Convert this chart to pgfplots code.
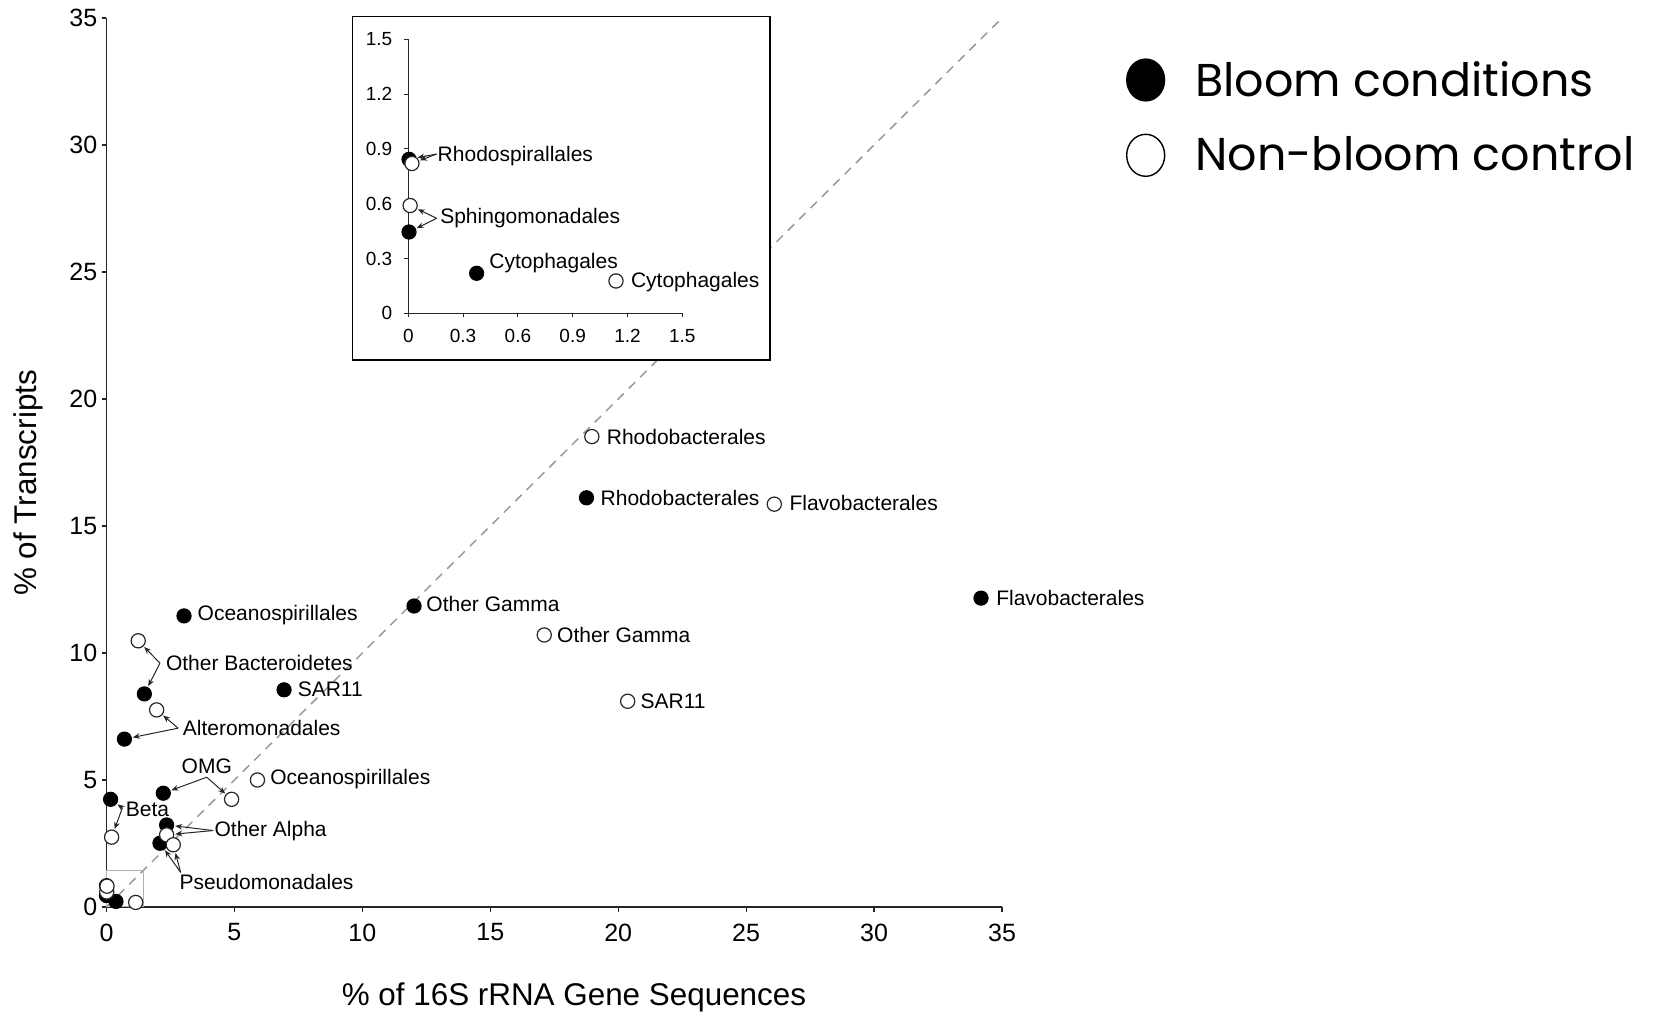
\documentclass[border=0pt]{standalone}
\usepackage{pgfplots}
\usepackage{pgfplotstable}
\pgfplotsset{compat=1.18}
\usepackage{fontspec}
\setmainfont{Liberation Sans}
\newfontfamily\legfont{Poppins}
\usetikzlibrary{arrows.meta}

\pgfplotstableread{
x y
34.18 12.16
18.76 16.11
12.02 11.85
3.03 11.46
6.94 8.55
1.48 8.39
0.70 6.61
2.22 4.48
0.16 4.24
2.35 3.23
2.09 2.51
0.37 0.22
0.00 0.45
0.00 0.84
}\bloom

\pgfplotstableread{
x y
18.97 18.52
26.10 15.86
17.11 10.71
20.37 8.10
5.90 5.00
4.89 4.24
1.24 10.48
1.96 7.76
0.20 2.75
2.35 2.84
2.61 2.45
1.14 0.18
0.01 0.59
0.02 0.82
}\nonbloom

\pgfplotstableread{
x y
0.004 0.843
0.004 0.445
0.374 0.219
}\bloominset

\pgfplotstableread{
x y
0.020 0.820
0.010 0.590
1.137 0.177
}\nonbloominset

\tikzset{
  ann/.style={black!85, line width=0.5pt, -{Stealth[length=3.5pt,width=2.8pt]}, shorten >=4.3pt},
  lbl/.style={anchor=west, inner sep=0pt, font=\fontsize{10.5}{12}\selectfont},
}

\begin{document}
\begin{tikzpicture}[x=1pt,y=1pt]
\useasboundingbox (0,0) rectangle (827,508);
\begin{axis}[
  at={(53.25pt,54.5pt)}, anchor=south west,
  scale only axis, width=447.75pt, height=444.5pt,
  xmin=0, xmax=35, ymin=0, ymax=35,
  axis lines=left,
  axis line style={-, line width=0.7pt, black!85},
  xtick={0,5,10,15,20,25,30,35},
  ytick={0,5,10,15,20,25,30,35},
  tick align=outside, major tick length=2.3pt,
  tick style={line width=0.6pt, black!85},
  ticklabel style={font=\fontsize{12.5}{14}\selectfont},
  xticklabel style={yshift=-2.5pt},
  yticklabel style={xshift=1.2pt},
  /pgf/number format/assume math mode=true,
  xlabel={\% of 16S rRNA Gene Sequences},
  ylabel={\% of Transcripts},
  label style={font=\fontsize{15.7}{18}\selectfont},
  xlabel style={at={(rel axis cs:0.522,-0.1012)}, anchor=center},
  ylabel style={at={(rel axis cs:-0.0871,0.477)}, anchor=center},
  clip=false,
  legend cell align=left,
  legend style={at={(rel axis cs:1.138,0.955)}, anchor=north west,
    draw=none, fill=none, inner sep=0pt,
    font=\legfont\fontsize{23}{28}\selectfont,
    row sep=16pt, nodes={inner sep=0pt},
    /tikz/every odd column/.append style={column sep=15pt}},
]
\addlegendimage{legend image code/.code={\draw[black, line width=0.6pt, fill=black] (9.5pt,0pt) ellipse [x radius=9.5pt, y radius=10.5pt];}}
\addlegendentry{Bloom conditions}
\addlegendimage{legend image code/.code={\draw[black, line width=0.7pt, fill=white] (9.5pt,0pt) ellipse [x radius=9.5pt, y radius=10.5pt];}}
\addlegendentry{Non-bloom control}

\addplot[black!40, line width=0.75pt, dash pattern=on 4.5pt off 3.5pt, forget plot] coordinates {(0,0) (34.9,34.9)};
\draw[black!30, line width=0.5pt] (0,0) rectangle (1.45,1.45);

\addplot[only marks, mark=*, mark size=3.55pt, mark options={fill=black, draw=black, line width=0.5pt}, forget plot] table {\bloom};
\addplot[only marks, mark=*, mark size=3.55pt, mark options={fill=white, draw=black!85, line width=0.6pt}, forget plot] table {\nonbloom};

% annotations
\draw[ann] (2.09,9.60) -- (1.24,10.48);
\draw[ann] (2.09,9.60) -- (1.48,8.39);
\draw[ann] (2.80,7.04) -- (1.96,7.76);
\draw[ann] (2.80,7.04) -- (0.70,6.61);
\draw[ann] (3.92,5.11) -- (2.22,4.48);
\draw[ann] (3.92,5.11) -- (4.89,4.24);
\draw[ann] (0.62,3.90) -- (0.16,4.24);
\draw[ann] (0.62,3.90) -- (0.20,2.75);
\draw[ann] (4.17,3.01) -- (2.35,3.23);
\draw[ann] (4.17,3.01) -- (2.35,2.84);
\draw[ann] (2.90,1.36) -- (2.09,2.51);
\draw[ann] (2.90,1.36) -- (2.61,2.45);

\node[lbl] at (34.76,12.16) {Flavobacterales};
\node[lbl] at (19.30,16.11) {Rhodobacterales};
\node[lbl] at (19.54,18.52) {Rhodobacterales};
\node[lbl] at (26.68,15.90) {Flavobacterales};
\node[lbl] at (12.49,11.92) {Other Gamma};
\node[lbl] at (17.60,10.71) {Other Gamma};
\node[lbl] at (20.86,8.10) {SAR11};
\node[lbl] at (7.46,8.59) {SAR11};
\node[lbl] at (3.55,11.50) {Oceanospirillales};
\node[lbl] at (6.39,5.02) {Oceanospirillales};
\node[lbl] at (2.31,9.59) {Other Bacteroidetes};
\node[lbl] at (2.97,7.06) {Alteromonadales};
\node[lbl, anchor=south] at (3.92,5.25) {OMG};
\node[lbl] at (0.74,3.86) {Beta};
\node[lbl] at (4.21,2.99) {Other Alpha};
\node[lbl] at (2.84,1.00) {Pseudomonadales};
\end{axis}

\draw[black, line width=0.75pt, fill=white] (176.35,328) rectangle (385,499.65);

\begin{axis}[
  at={(204.15pt,351.35pt)}, anchor=south west,
  scale only axis, width=137pt, height=137pt,
  xmin=0, xmax=1.5, ymin=0, ymax=1.5,
  axis lines=left,
  axis line style={-, line width=0.6pt, black!85},
  xtick={0,0.3,0.6,0.9,1.2,1.5},
  ytick={0,0.3,0.6,0.9,1.2,1.5},
  xticklabels={0,0.3,0.6,0.9,1.2,1.5},
  yticklabels={0,0.3,0.6,0.9,1.2,1.5},
  tick align=outside, major tick length=2pt,
  tick style={line width=0.5pt, black!85},
  ticklabel style={font=\fontsize{9.5}{11}\selectfont},
  xticklabel style={yshift=-2.5pt},
  yticklabel style={xshift=-2.5pt},
  clip=false,
]
\addplot[only marks, mark=*, mark size=3.55pt, mark options={fill=black, draw=black, line width=0.5pt}] table {\bloominset};
\addplot[only marks, mark=*, mark size=3.55pt, mark options={fill=white, draw=black!85, line width=0.6pt}] table {\nonbloominset};
\draw[ann] (0.155,0.872) -- (0.004,0.843);
\draw[ann] (0.155,0.872) -- (0.020,0.820);
\draw[ann] (0.155,0.520) -- (0.010,0.590);
\draw[ann] (0.155,0.520) -- (0.004,0.445);
\node[lbl] at (0.159,0.861) {Rhodospirallales};
\node[lbl] at (0.173,0.520) {Sphingomonadales};
\node[lbl] at (0.442,0.274) {Cytophagales};
\node[lbl] at (1.217,0.173) {Cytophagales};
\end{axis}
\end{tikzpicture}
\end{document}
